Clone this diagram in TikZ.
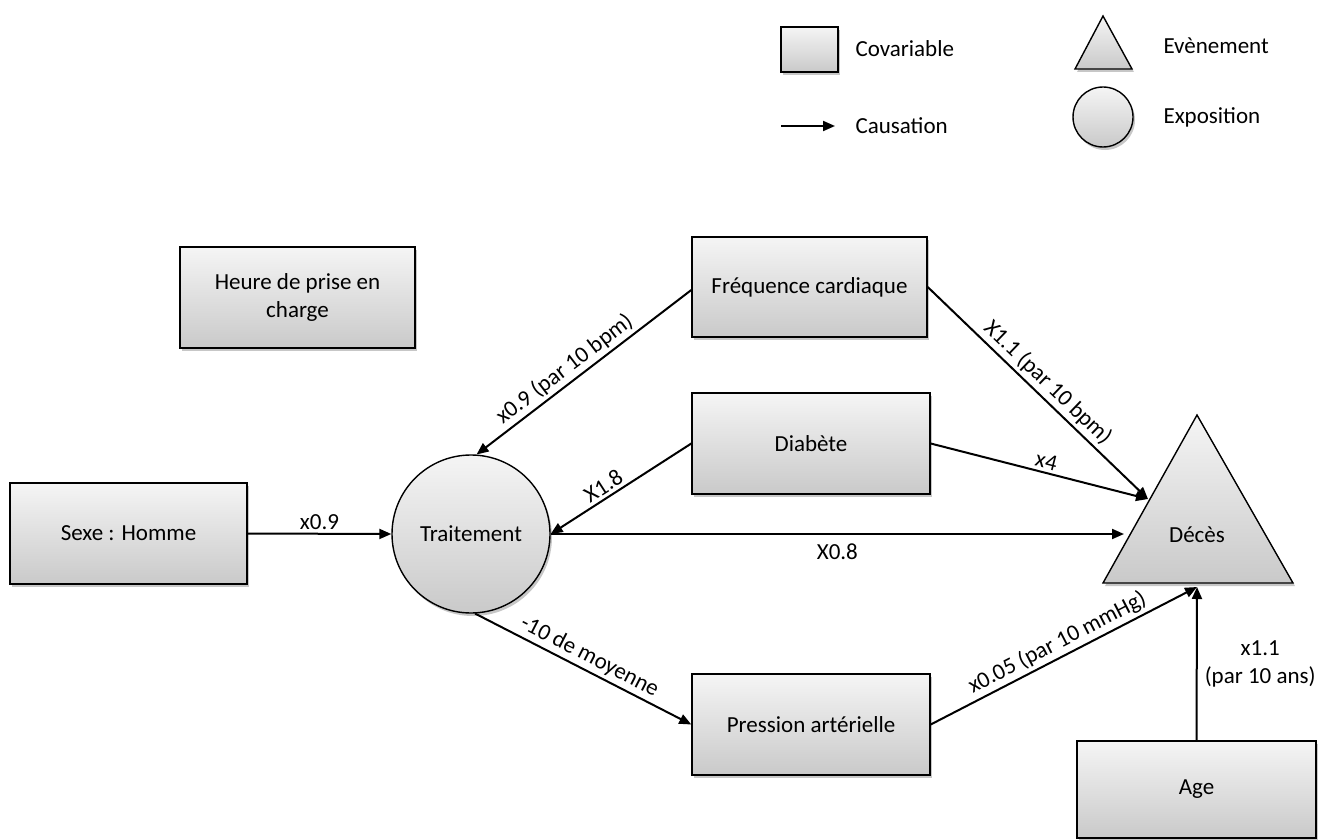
\documentclass[tikz,border=0pt]{standalone}
\usepackage{fontspec}
\setmainfont{Carlito}
\usetikzlibrary{arrows.meta,shadows,calc}
\begin{document}
\begin{tikzpicture}[x=1pt,y=-1pt,
  font=\fontsize{23}{28}\selectfont,
  shade3d/.style={top color=gray!8,bottom color=gray!42,draw=black,line width=1.4pt,
    drop shadow={shadow xshift=2pt,shadow yshift=-3pt,opacity=0.22,fill=black}},
  covbox/.style={shade3d,rectangle,inner sep=2pt,align=center},
  expo/.style={shade3d,circle,inner sep=0pt},
  arr/.style={line width=2pt,-{Triangle[length=12pt,width=10pt]}},
  lbl/.style={inner sep=3pt}]
\useasboundingbox (0,0) rectangle (1319,840);

% legend
\node[covbox,minimum width=57pt,minimum height=45pt] (legbox) at (809.5,49.5) {};
\node[anchor=west] (legcov) at (852,49) {Covariable};
\coordinate (legA) at (781,126);
\coordinate (legB) at (835,126);
\draw[arr] (legA) -- (legB);
\node[anchor=west] (legcaus) at (852,126) {Causation};
\path[shade3d] (1103,16) coordinate (legtriA) -- (1132,69) coordinate (legtriB) -- (1075,69) coordinate (legtriC) -- cycle;
\node[anchor=west] (legevt) at (1160,46) {Evènement};
\node[expo,minimum size=60pt] (legcirc) at (1103,117) {};
\node[anchor=west] (legexp) at (1160,117) {Exposition};

% nodes
\node[covbox,minimum width=235pt,minimum height=101pt] (heure) at (297.5,297.5) {Heure de prise en\\charge};
\node[covbox,minimum width=235pt,minimum height=100pt] (freq) at (809.5,287) {Fréquence cardiaque};
\node[covbox,minimum width=238pt,minimum height=101pt] (diab) at (811,443.5) {Diabète};
\node[covbox,minimum width=237pt,minimum height=101pt] (sexe) at (128.5,533.5) {Sexe : Homme};
\node[covbox,minimum width=238pt,minimum height=101pt] (press) at (811,724.5) {Pression artérielle};
\node[covbox,minimum width=239pt,minimum height=97pt] (age) at (1196.5,789.5) {Age};
\node[expo,minimum size=158pt] (trait) at (471,534) {Traitement};

% Deces triangle
\path[shade3d] (1197,415) coordinate (decA) -- (1293,583) coordinate (decB) -- (1103,583) coordinate (decC) -- cycle;
\node (deces) at (1197,535) {Décès};
\coordinate (decL1) at (1148,499);
\coordinate (decL2) at (1124,534);
\coordinate (decBot) at (1197,587);

% connectors
\draw[arr] (sexe.east) -- node[lbl,above] {x0.9} (trait.west);
\draw[arr] (freq.west |- 0,290) -- node[lbl,sloped,above,pos=0.55] {x0.9 (par 10 bpm)} (trait.86);
\draw[arr] (diab.west) -- node[lbl,sloped,above,pos=0.58] {X1.8} (trait.east);
\draw[arr] (trait.east) -- node[lbl,below,pos=0.5,yshift=-6pt] {X0.8} (decL2);
\draw[arr] (freq.east) -- node[lbl,sloped,above] {X1.1 (par 10 bpm)} (decL1);
\draw[arr] (diab.east) -- node[lbl,sloped,above,pos=0.52] {x4} (decL1);
\draw[arr] (trait.-87) -- node[lbl,sloped,above] {-10 de moyenne} (press.west);
\draw[arr] (press.east) -- node[lbl,sloped,above] {x0.05 (par 10 mmHg)} (decBot);
\draw[arr] (age.north) -- node[lbl,right,align=center,xshift=4pt] {x1.1\\(par 10 ans)} (decBot);
\end{tikzpicture}
\end{document}
